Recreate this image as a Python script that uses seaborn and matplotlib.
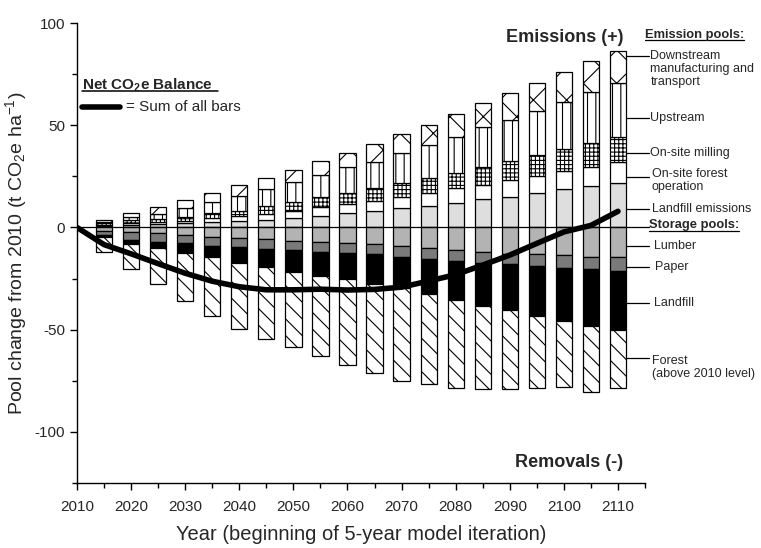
import matplotlib
matplotlib.use("Agg")
import matplotlib.pyplot as plt
from matplotlib.ticker import MultipleLocator
import numpy as np
import pandas as pd
import seaborn as sns

# 5-year model iterations
years = [2015, 2020, 2025, 2030, 2035, 2040, 2045, 2050, 2055, 2060,
         2065, 2070, 2075, 2080, 2085, 2090, 2095, 2100, 2105, 2110]

# emission pools (+), t CO2e / ha
landfill_emis = [0.6, 1.2, 1.6, 2.0, 2.8, 3.2, 3.8, 4.5, 5.6, 6.9,
                 8.1, 9.4, 10.5, 12.1, 13.8, 15.1, 16.7, 18.7, 20.3, 21.9]
forest_ops = [0.7, 1.2, 1.0, 1.3, 1.7, 2.2, 2.8, 3.7, 4.3, 4.4,
              5.0, 5.4, 6.5, 7.1, 7.0, 8.1, 8.5, 9.1, 9.1, 10.0]
milling = [0.7, 1.3, 1.3, 1.7, 2.4, 2.8, 3.9, 4.4, 4.9, 5.7,
           6.1, 7.1, 7.1, 7.6, 8.9, 9.3, 10.3, 10.6, 11.8, 12.5]
upstream = [0.8, 1.3, 2.7, 4.6, 5.7, 7.2, 8.2, 9.8, 10.9, 12.4,
            13.0, 14.7, 16.2, 17.6, 19.3, 20.1, 21.6, 23.1, 24.9, 26.4]
downstream = [0.9, 2.2, 3.3, 3.8, 4.4, 5.4, 5.5, 5.7, 6.8, 7.2,
              8.8, 9.1, 10.0, 11.1, 11.7, 13.0, 13.7, 14.5, 15.2, 15.7]

# storage pools (-)
lumber = [-1.6, -2.0, -2.9, -3.7, -4.5, -5.3, -5.8, -6.5, -6.9, -7.7,
          -8.2, -9.0, -9.9, -11.0, -11.8, -13.0, -13.0, -13.4, -14.3, -14.6]
paper = [-2.2, -4.1, -4.0, -4.0, -4.5, -4.4, -4.9, -4.5, -4.9, -4.6,
         -4.9, -5.3, -5.5, -5.4, -5.4, -5.0, -5.8, -6.3, -6.0, -6.5]
landfill = [-0.7, -2.0, -3.3, -4.9, -5.6, -7.5, -8.8, -10.6, -11.8, -13.0,
            -14.5, -15.4, -17.1, -19.1, -21.0, -22.3, -24.3, -25.9, -27.7, -29.0]
forest = [-7.6, -12.0, -17.4, -23.2, -28.7, -32.6, -35.2, -37.0, -39.1, -41.9,
          -43.7, -45.2, -44.0, -43.1, -40.9, -38.8, -35.5, -32.6, -32.3, -28.5]

sns.set_theme(style="ticks")
plt.rcParams['font.family'] = ['Liberation Sans', 'DejaVu Sans']
plt.rcParams['mathtext.fontset'] = 'custom'
plt.rcParams['mathtext.rm'] = 'Liberation Sans'
plt.rcParams['mathtext.bf'] = 'Liberation Sans:bold'
plt.rcParams['mathtext.default'] = 'regular'
plt.rcParams['axes.unicode_minus'] = False
plt.rcParams['hatch.linewidth'] = 0.8

fig = plt.figure(figsize=(7.61, 5.48), dpi=100)
ax = fig.add_axes([0.1012, 0.1186, 0.7464, 0.8394])

# stacked bars: emissions up, storage down
pos_layers = [(landfill_emis, '#dedede', None),
              (forest_ops, 'white', None),
              (milling, 'white', '++++'),
              (upstream, 'white', '||'),
              (downstream, 'white', 'x')]
neg_layers = [(lumber, '#b3b3b3', None),
              (paper, '#7a7a7a', None),
              (landfill, 'black', None),
              (forest, 'white', '\\\\')]

bottom = np.zeros(len(years))
for vals, col, hat in pos_layers:
    ax.bar(years, vals, width=3, bottom=bottom, color=col, hatch=hat,
           edgecolor='black', linewidth=0.9, zorder=2)
    bottom += np.array(vals)
bottom = np.zeros(len(years))
for vals, col, hat in neg_layers:
    ax.bar(years, vals, width=3, bottom=bottom, color=col, hatch=hat,
           edgecolor='black', linewidth=0.9, zorder=2)
    bottom += np.array(vals)

# net balance = sum of all bars
all_layers = [landfill_emis, forest_ops, milling, upstream, downstream,
              lumber, paper, landfill, forest]
net = np.sum(np.array(all_layers), axis=0)
df_net = pd.DataFrame({'year': [2010] + years, 'net': [0] + list(net)})
sns.lineplot(data=df_net, x='year', y='net', color='black', linewidth=4,
             ax=ax, zorder=4)

# zero line
ax.plot([2010, 2115.7], [0, 0], color='black', lw=0.9, zorder=3, clip_on=False)

ax.set_xlim(2010, 2115)
ax.set_ylim(-125, 100)
ax.xaxis.set_major_locator(MultipleLocator(10))
ax.xaxis.set_minor_locator(MultipleLocator(5))
ax.yaxis.set_major_locator(MultipleLocator(50))
ax.yaxis.set_minor_locator(MultipleLocator(25))
ax.tick_params(axis='both', which='major', length=5, width=1, labelsize=11, color='black')
ax.tick_params(axis='both', which='minor', length=3.5, width=1, color='black')
ax.tick_params(axis='x', pad=7)
sns.despine(ax=ax)
for s in ['left', 'bottom']:
    ax.spines[s].set_color('black')
    ax.spines[s].set_linewidth(1)

ax.set_xlabel('Year (beginning of 5-year model iteration)', fontsize=14.5, labelpad=8)
ax.set_ylabel('Pool change from 2010 (t CO$_2$e ha$^{-1}$)', fontsize=14, labelpad=4)

ax.text(2111, 93, 'Emissions (+)', fontsize=13, fontweight='bold', ha='right', va='center')
ax.text(2111, -115, 'Removals (-)', fontsize=13, fontweight='bold', ha='right', va='center')

# net balance legend
ax.text(2011, 69.7, r'Net CO$_\mathbf{2}$e Balance', fontsize=11, fontweight='bold', va='center')
ax.plot([2011, 2036], [66.6, 66.6], color='black', lw=1.1)
ax.plot([2010.9, 2018], [58.8, 58.8], color='black', lw=4, solid_capstyle='round')
ax.text(2019.1, 58.8, '= Sum of all bars', fontsize=11, va='center')

# pool labels to the right
ax.text(2115.0, 94.1, 'Emission pools:', fontsize=9.3, fontweight='bold', va='center')
ax.plot([2115.0, 2133.3], [91.5, 91.5], color='black', lw=0.9, clip_on=False)
ax.text(2115.7, 1.4, 'Storage pools:', fontsize=9.3, fontweight='bold', va='center')
ax.plot([2115.7, 2132.3], [-1.8, -1.8], color='black', lw=0.9, clip_on=False)

labels = [('Downstream\nmanufacturing and\ntransport', 83.9, 77.5, 2116.0),
          ('Upstream', 53.5, 53.5, 2116.0),
          ('On-site milling', 36.4, 36.4, 2116.0),
          ('On-site forest\noperation', 24.7, 22.9, 2116.2),
          ('Landfill emissions', 9.0, 9.0, 2116.2),
          ('Lumber', -9.0, -9.0, 2116.6),
          ('Paper', -19.3, -19.3, 2116.8),
          ('Landfill', -36.9, -36.9, 2116.6),
          ('Forest\n(above 2010 level)', -63.8, -68.5, 2116.3)]
for txt, ly, ty, tx in labels:
    ax.plot([2111.5, 2115.7], [ly, ly], color='black', lw=0.9, clip_on=False)
    ax.text(tx, ty, txt, fontsize=9, va='center', linespacing=1.15)

fig.savefig('out.png', dpi=100)
